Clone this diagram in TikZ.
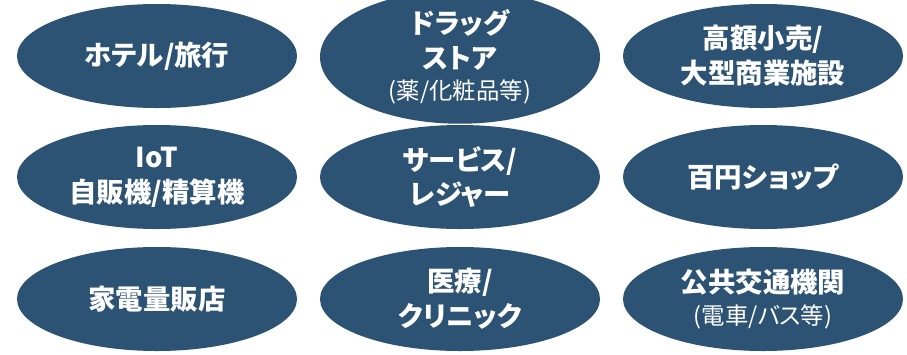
\documentclass[tikz,border=0pt]{standalone}
\usepackage{fontspec}
\setmainfont{Noto Sans CJK JP}[RawFeature=+palt]
\usetikzlibrary{shapes.geometric}
\definecolor{navy}{HTML}{2C5274}
\newcommand{\subtxt}[1]{{\fontsize{23.5}{30}\selectfont\mdseries #1}}
\begin{document}
\begin{tikzpicture}[x=1bp,y=-1bp,
  oval/.style={ellipse, fill=navy, draw=none, minimum width=280bp, minimum height=104bp,
    inner sep=0pt, text=white, align=center,
    font=\fontsize{27.5}{35}\selectfont\bfseries}]
\useasboundingbox (0,0) rectangle (907,354);
\node[oval] (hotel)  at (157,56)  {ホテル/旅行};
\node[oval] (drug)   at (460,57)  {ドラッグ\\ストア\\[-4bp]\subtxt{(薬/化粧品等)}};
\node[oval] (luxury) at (763,56)  {高額小売/\\大型商業施設};
\node[oval] (iot)    at (157,177) {IoT\\自販機/精算機};
\node[oval] (leisure)at (460,177) {サービス/\\レジャー};
\node[oval] (hyakuen)at (763,177) {百円ショップ};
\node[oval] (denki)  at (157,299) {家電量販店};
\node[oval] (clinic) at (460,299) {医療/\\クリニック};
\node[oval] (transit)at (763,299) {公共交通機関\\[-3bp]\subtxt{(電車/バス等)}};
\end{tikzpicture}
\end{document}
